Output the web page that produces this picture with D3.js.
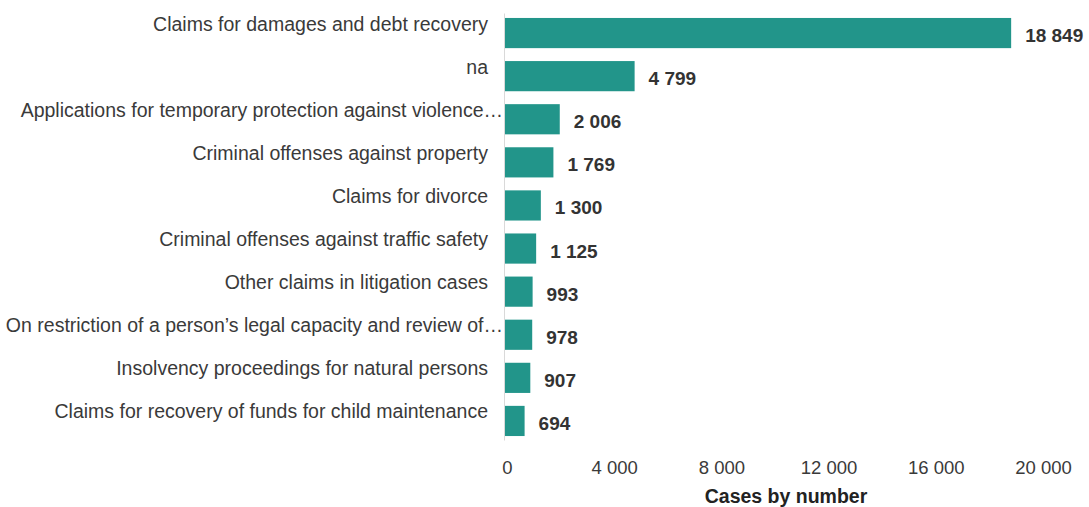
<!DOCTYPE html>
<html>
<head>
<meta charset="utf-8">
<script src="https://cdn.jsdelivr.net/npm/d3@7"></script>
<style>
  html, body { margin: 0; padding: 0; background: #fff; }
  svg { display: block; }
</style>
</head>
<body>
<div id="chart"></div>
<script>
// Case categories and their counts
const categories = [
  "Claims for damages and debt recovery",
  "na",
  "Applications for temporary protection against violence…",
  "Criminal offenses against property",
  "Claims for divorce",
  "Criminal offenses against traffic safety",
  "Other claims in litigation cases",
  "On restriction of a person’s legal capacity and review of…",
  "Insolvency proceedings for natural persons",
  "Claims for recovery of funds for child maintenance"
];
const cases = [18849, 4799, 2006, 1769, 1300, 1125, 993, 978, 907, 694];
const xTicks = [0, 4000, 8000, 12000, 16000, 20000];
const xTitle = "Cases by number";

const width = 1089, height = 507;
const barColor = "#22958a";
const textColor = "#3a3a3a";
const font = "'Liberation Sans', Arial, Helvetica, sans-serif";

const fmt = v => d3.format(",")(v).replace(/,/g, " ");

const svg = d3.select("#chart").append("svg")
  .attr("width", width).attr("height", height);

const x = d3.scaleLinear().domain([0, 20000]).range([506, 1042]);
const y = d3.scaleBand().domain(categories).range([11.5, 442.5])
  .paddingInner(0.3).paddingOuter(0.15);

// vertical baseline of the value axis
svg.append("line")
  .attr("x1", x(0) - 1.5).attr("x2", x(0) - 1.5)
  .attr("y1", y.range()[0] + 2).attr("y2", y.range()[1] - 2)
  .attr("stroke", "#d9d9d9").attr("stroke-width", 1);

// bars
svg.append("g").selectAll("rect")
  .data(categories)
  .join("rect")
  .attr("x", x(0) - 1)
  .attr("y", d => y(d))
  .attr("width", (d, i) => x(cases[i]) - x(0) + 1)
  .attr("height", y.bandwidth())
  .attr("fill", barColor);

// category labels
svg.append("g").selectAll("text")
  .data(categories)
  .join("text")
  .attr("x", d => d.endsWith("…") ? 503 : 488)
  .attr("y", d => y(d) + y.bandwidth() / 2 - 2.5)
  .attr("text-anchor", "end")
  .attr("font-family", font)
  .attr("font-size", 19.5)
  .attr("fill", textColor)
  .text(d => d);

// value labels
svg.append("g").selectAll("text")
  .data(categories)
  .join("text")
  .attr("x", (d, i) => x(cases[i]) + 14)
  .attr("y", d => y(d) + y.bandwidth() / 2 + 9)
  .attr("font-family", font)
  .attr("font-weight", "bold")
  .attr("font-size", 19)
  .attr("fill", "#333")
  .text((d, i) => fmt(cases[i]));

// x axis tick labels
const axis = d3.axisBottom(x).tickValues(xTicks).tickSize(0).tickPadding(0)
  .tickFormat(fmt);
const gx = svg.append("g").attr("transform", "translate(1,460)").call(axis);
gx.select(".domain").remove();
gx.selectAll("text")
  .attr("dy", null)
  .attr("y", 14)
  .attr("font-family", font)
  .attr("font-size", 18.5)
  .attr("fill", textColor);

// axis title
svg.append("text")
  .attr("x", (x(0) + x(20000)) / 2 + 12)
  .attr("y", 503)
  .attr("text-anchor", "middle")
  .attr("font-family", font)
  .attr("font-weight", "bold")
  .attr("font-size", 19.5)
  .attr("fill", "#222")
  .text(xTitle);
</script>
</body>
</html>
